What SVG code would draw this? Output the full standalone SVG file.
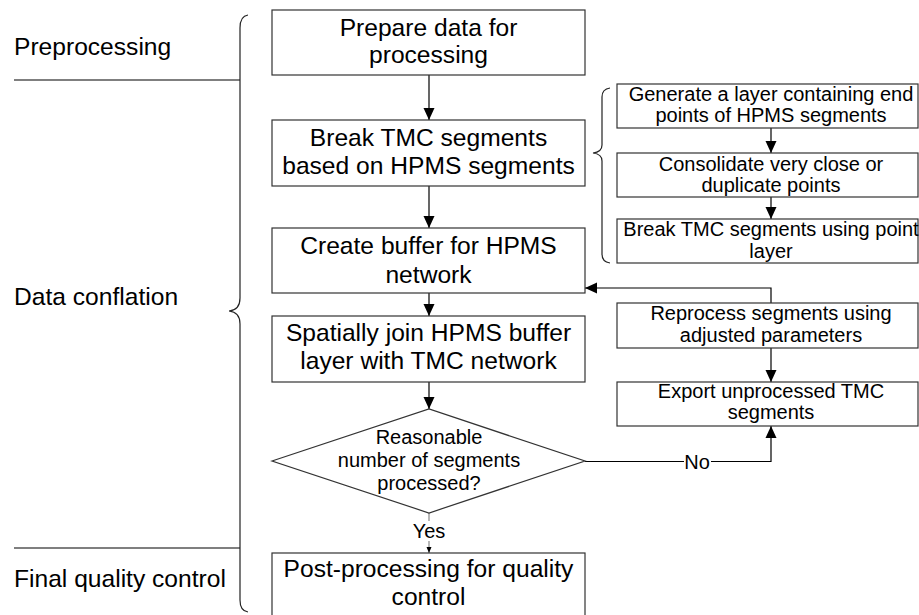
<svg xmlns="http://www.w3.org/2000/svg" width="919" height="615" viewBox="0 0 919 615">
<style>
.box{fill:#fff;stroke:#333;stroke-width:1.2}
.t{font-family:"Liberation Sans",Arial,sans-serif;font-size:24.6px;fill:#000;text-anchor:middle}
.s{font-family:"Liberation Sans",Arial,sans-serif;font-size:20px;fill:#000;text-anchor:middle}
.lbl{font-family:"Liberation Sans",Arial,sans-serif;font-size:24.6px;fill:#000}
.ln{fill:none;stroke:#000;stroke-width:1.2}
.br{fill:none;stroke:#222;stroke-width:1.2}
</style>
<defs>
<marker id="ah" viewBox="0 0 12 12" refX="12" refY="6" markerWidth="12" markerHeight="12" markerUnits="userSpaceOnUse" orient="auto">
<path d="M0,0.5 L12,6 L0,11.5 z" fill="#000"/>
</marker>
<marker id="ahs" viewBox="0 0 6 6" refX="6" refY="3" markerWidth="6" markerHeight="6" markerUnits="userSpaceOnUse" orient="auto">
<path d="M0,0.5 L6,3 L0,5.5 z" fill="#000"/>
</marker>
</defs>

<g id="phases">
<text class="lbl" x="14" y="55">Preprocessing</text>
<line class="ln" x1="14" y1="80" x2="240" y2="80"/>
<text class="lbl" x="14" y="305">Data conflation</text>
<line class="ln" x1="14" y1="548" x2="240" y2="548"/>
<text class="lbl" x="14" y="587">Final quality control</text>
<path class="br" d="M248 15 Q240 16 240 28 L240 298 Q240 310 229 311 Q240 312 240 324 L240 600 Q240 611 248 612"/>
<path class="br" d="M610 88 Q602 89 602 97 L602 145 Q602 152 593 153 Q602 154 602 161 L602 254 Q602 262 610 263"/>
</g>

<g id="connectors">
<line class="ln" x1="429" y1="75" x2="429" y2="120" marker-end="url(#ah)"/>
<line class="ln" x1="429" y1="186" x2="429" y2="228" marker-end="url(#ah)"/>
<line class="ln" x1="429" y1="293" x2="429" y2="316" marker-end="url(#ah)"/>
<line class="ln" x1="429" y1="382" x2="429" y2="409" marker-end="url(#ah)"/>
<line x1="429" y1="513" x2="429" y2="553" stroke="#888" stroke-width="1.2" marker-end="url(#ahs)"/>
<rect x="418" y="521" width="22" height="20" fill="#fff"/>
<text class="s" x="429" y="538">Yes</text>
<polyline class="ln" points="771,303 771,288 585,288" marker-end="url(#ah)"/>
<line class="ln" x1="771" y1="348" x2="771" y2="382" marker-end="url(#ah)"/>
<polyline class="ln" points="585,461.5 771,461.5 771,426" marker-end="url(#ah)"/>
<rect x="684" y="451" width="27" height="20" fill="#fff"/>
<text class="s" x="697" y="468.5">No</text>
<line class="ln" x1="771" y1="128" x2="771" y2="153" marker-end="url(#ah)"/>
<line class="ln" x1="771" y1="197" x2="771" y2="219" marker-end="url(#ah)"/>
</g>

<g id="n1"><rect class="box" x="272" y="10" width="313" height="65"/>
<text class="t" x="428.5" y="36">Prepare data for</text><text class="t" x="428.5" y="63">processing</text></g>
<g id="n2"><rect class="box" x="272" y="120" width="313" height="66"/>
<text class="t" x="428.5" y="146">Break TMC segments</text><text class="t" x="428.5" y="173.5">based on HPMS segments</text></g>
<g id="n3"><rect class="box" x="272" y="228" width="313" height="65"/>
<text class="t" x="428.5" y="254">Create buffer for HPMS</text><text class="t" x="428.5" y="282.5">network</text></g>
<g id="n4"><rect class="box" x="272" y="316" width="313" height="66"/>
<text class="t" x="428.5" y="341">Spatially join HPMS buffer</text><text class="t" x="428.5" y="369">layer with TMC network</text></g>
<g id="n5"><polygon class="box" points="272,461 429,409 585,461 429,513"/>
<text class="s" x="429" y="444">Reasonable</text><text class="s" x="429" y="467">number of segments</text><text class="s" x="429" y="490">processed?</text></g>
<g id="n6"><rect class="box" x="272" y="553" width="313" height="70"/>
<text class="t" x="428.5" y="577">Post-processing for quality</text><text class="t" x="428.5" y="604.5">control</text></g>

<g id="s1"><rect class="box" x="617" y="84" width="301" height="44"/>
<text class="s" x="771" y="101">Generate a layer containing end</text><text class="s" x="771" y="122">points of HPMS segments</text></g>
<g id="s2"><rect class="box" x="617" y="153" width="301" height="44"/>
<text class="s" x="771" y="170.5">Consolidate very close or</text><text class="s" x="771" y="191.5">duplicate points</text></g>
<g id="s3"><rect class="box" x="617" y="219" width="301" height="44"/>
<text class="s" x="771" y="236">Break TMC segments using point</text><text class="s" x="771" y="257.5">layer</text></g>
<g id="r1"><rect class="box" x="617" y="303" width="301" height="45"/>
<text class="s" x="771" y="320">Reprocess segments using</text><text class="s" x="771" y="341.5">adjusted parameters</text></g>
<g id="r2"><rect class="box" x="617" y="382" width="301" height="44"/>
<text class="s" x="771" y="397.5">Export unprocessed TMC</text><text class="s" x="771" y="419">segments</text></g>
</svg>
